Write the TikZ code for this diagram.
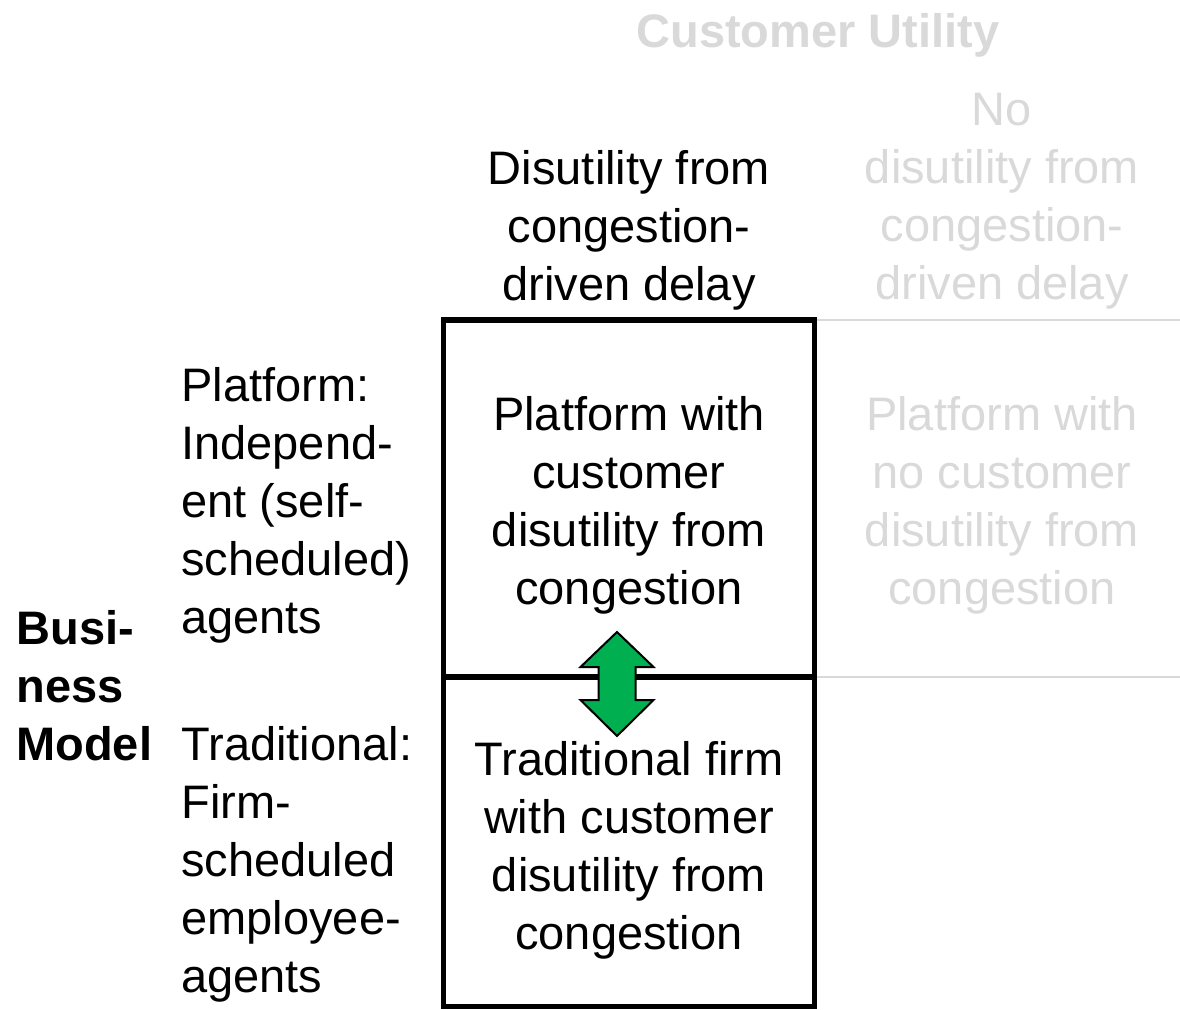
\documentclass[tikz,border=0pt]{standalone}
\usepackage{fontspec}
\setmainfont{Liberation Sans}
\definecolor{faint}{HTML}{D9D9D9}
\definecolor{swapgreen}{HTML}{00B050}
\begin{document}
\begin{tikzpicture}[x=0.5pt,y=-0.5pt,
	txt/.style={
		font=\fontsize{23.5}{29}\selectfont,
		inner sep=0pt,
		align=center},
	faded/.style={txt, text=faint},
	side/.style={txt, anchor=west, align=left},
	cell/.style={
		draw, line width=2.75pt,
		inner sep=0pt, outer sep=0pt,
		minimum width=185.5pt}]
	\useasboundingbox (0,0) rectangle (1180,1009);
	\node [faded,font=\fontsize{23.5}{29}\selectfont\bfseries] (t0) at (818,35) {Customer Utility};
	\node [txt] (c1) at (629,230) {Disutility from\\congestion-\\driven delay};
	\node [faded] (c2) at (1002,201) {No\\disutility from\\congestion-\\driven delay};
	\node [side] (r1) at (181,505) {Platform:\\Independ-\\ent (self-\\scheduled)\\agents};
	\node [side] (r2) at (181,864) {Traditional:\\Firm-\\scheduled\\employee-\\agents};
	\node [side,font=\fontsize{23.5}{29}\selectfont\bfseries] (bm) at (16,686) {Busi-\\ness\\Model};
	\node [cell,minimum height=178.5pt] (q1) at (629,498.5) {};
	\node [cell,minimum height=164.75pt] (q3) at (629,841.75) {};
	\draw [faint, line width=1pt] (q1.north east) -- (1180,320);
	\draw [faint, line width=1pt] (q1.south east) -- (1180,677);
	\node [cell,minimum height=178.5pt] at (q1) {};
	\node [cell,minimum height=164.75pt] at (q3) {};
	\node [txt] (p1) at (629,505) {Platform with\\customer\\disutility from\\congestion};
	\node [faded] (p2) at (1002,505) {Platform with\\no customer\\disutility from\\congestion};
	\node [txt] (p3) at (629,850) {Traditional firm\\with customer\\disutility from\\congestion};
	\draw [fill=swapgreen, line width=1pt, line join=miter]
		(617,632) -- (653.5,667) -- (635.5,667) -- (635.5,700) -- (653.5,700) -- (617,736)
		-- (580.5,700) -- (598.5,700) -- (598.5,667) -- (580.5,667) -- cycle;
\end{tikzpicture}
\end{document}
